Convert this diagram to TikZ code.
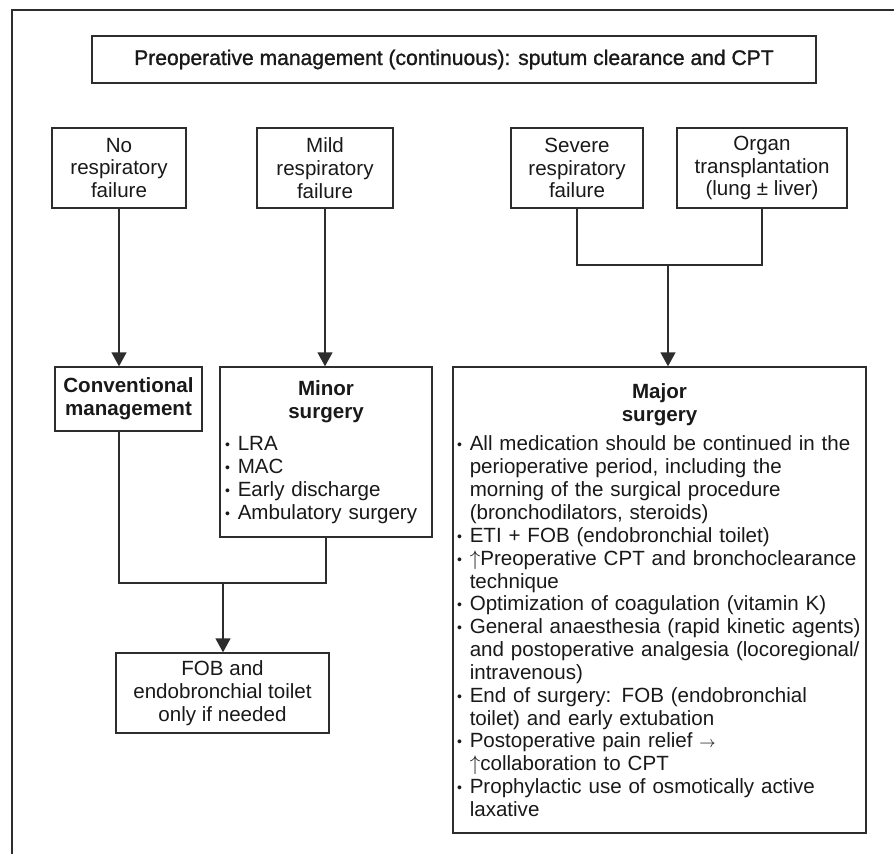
\documentclass[tikz,border=0pt]{standalone}
\usepackage{fontspec}
\setmainfont{Liberation Sans}
\newfontfamily\headfont[FakeBold=1.2]{Liberation Sans}
\usepackage{tikz}
\usetikzlibrary{arrows.meta,positioning,calc}
\usepackage{xcolor}
\usepackage{amsmath}
\definecolor{lc}{RGB}{45,45,45}
\definecolor{tx}{RGB}{25,25,25}
\hyphenpenalty=10000
\exhyphenpenalty=10000
\newcommand{\boxfont}{\fontsize{11.7}{13}\selectfont}
\newcommand{\bl}{\makebox[0.62em][l]{\raisebox{0.1ex}{\footnotesize\textbullet}}}
\newcommand{\ind}{\hspace*{0.62em}}
\tikzset{
  bx/.style={rectangle,draw=lc,line width=0.8pt,fill=white,
    align=center,font=\boxfont,text=tx,
    minimum width=#1,minimum height=1.6cm,inner sep=2pt},
  bx/.default=2.7cm,
  lst/.style={rectangle,draw=lc,line width=0.8pt,fill=white,
    align=left,font=\boxfont,text=tx,
    text width=#1,inner xsep=0.1cm,inner ysep=4pt},
  lst/.default=4.0cm,
  lnk/.style={line width=0.8pt,color=lc},
  arr/.style={-{Triangle[length=0.28cm,width=0.3cm]},line width=0.8pt,color=lc},
}

\begin{document}
\begin{tikzpicture}

    \useasboundingbox (0,0) rectangle (17.88,-17.08);
    \draw[lnk] (0.24,-17.08) -- (0.24,-0.2) -- (17.88,-0.2);

    % ── Header ────────────────────────────────────────────────────────────────
    \node[bx=14.48cm,minimum height=0.94cm,font=\headfont\fontsize{12}{13}\selectfont] (pre) at (9.08,-1.19)
      {Preoperative management (continuous): sputum clearance and CPT};

    % ── Patient groups ────────────────────────────────────────────────────────
    \node[bx=2.68cm] (no)     at (2.38,-3.36)  {No\\respiratory\\failure};
    \node[bx=2.72cm] (mild)   at (6.50,-3.36)  {Mild\\respiratory\\failure};
    \node[bx=2.64cm] (severe) at (11.54,-3.36) {Severe\\respiratory\\failure};
    \node[bx=3.40cm] (organ)  at (15.24,-3.36) {Organ\\transplantation\\(lung ± liver)};

    % ── Management ────────────────────────────────────────────────────────────
    \node[bx=2.94cm,minimum height=1.28cm,font=\boxfont\bfseries] (conv) at (2.57,-7.98)
      {Conventional\\management};

    \node[lst=4.04cm,minimum height=3.4cm] (minor) at (6.52,-9.04)
      {{\centering\bfseries Minor\\surgery\par}\vspace{0.2cm}
       \bl LRA\\
       \bl MAC\\
       \bl Early discharge\\
       \bl Ambulatory surgery};

    \node[lst=8.1cm,inner xsep=0.08cm,minimum height=9.32cm] (major) at (13.19,-12.0)
      {{\centering\bfseries Major\\surgery\par}\vspace{0.14cm}
       \bl All medication should be continued in the\\
       \ind perioperative period, including the\\
       \ind morning of the surgical procedure\\
       \ind (bronchodilators, steroids)\\
       \bl ETI + FOB (endobronchial toilet)\\
       \bl $\uparrow$Preoperative CPT and bronchoclearance\\
       \ind technique\\
       \bl Optimization of coagulation (vitamin K)\\
       \bl General anaesthesia (rapid kinetic agents)\\
       \ind and postoperative analgesia (locoregional/\\
       \ind intravenous)\\
       \bl End of surgery: FOB (endobronchial\\
       \ind toilet) and early extubation\\
       \bl Postoperative pain relief {\small$\rightarrow$}\\
       \ind $\uparrow$collaboration to CPT\\
       \bl Prophylactic use of osmotically active\\
       \ind laxative};

    \node[bx=4.26cm] (fob) at (4.45,-13.86)
      {FOB and\\endobronchial toilet\\only if needed};

    % ── Connectors ────────────────────────────────────────────────────────────
    \coordinate (jr) at (13.36,-5.3);
    \coordinate (jl) at (4.46,-11.66);

    \draw[arr] (no.south)--(no.south |- conv.north);
    \draw[arr] (mild.south)--(mild.south |- minor.north);

    \draw[lnk] (severe.south) |- (jr) -| (organ.south);
    \draw[arr] (jr)--(jr |- major.north);

    \draw[lnk] (no.south |- conv.south) |- (jl) -| (minor.south);
    \draw[arr] (jl)--(jl |- fob.north);

  \end{tikzpicture}
\end{document}
